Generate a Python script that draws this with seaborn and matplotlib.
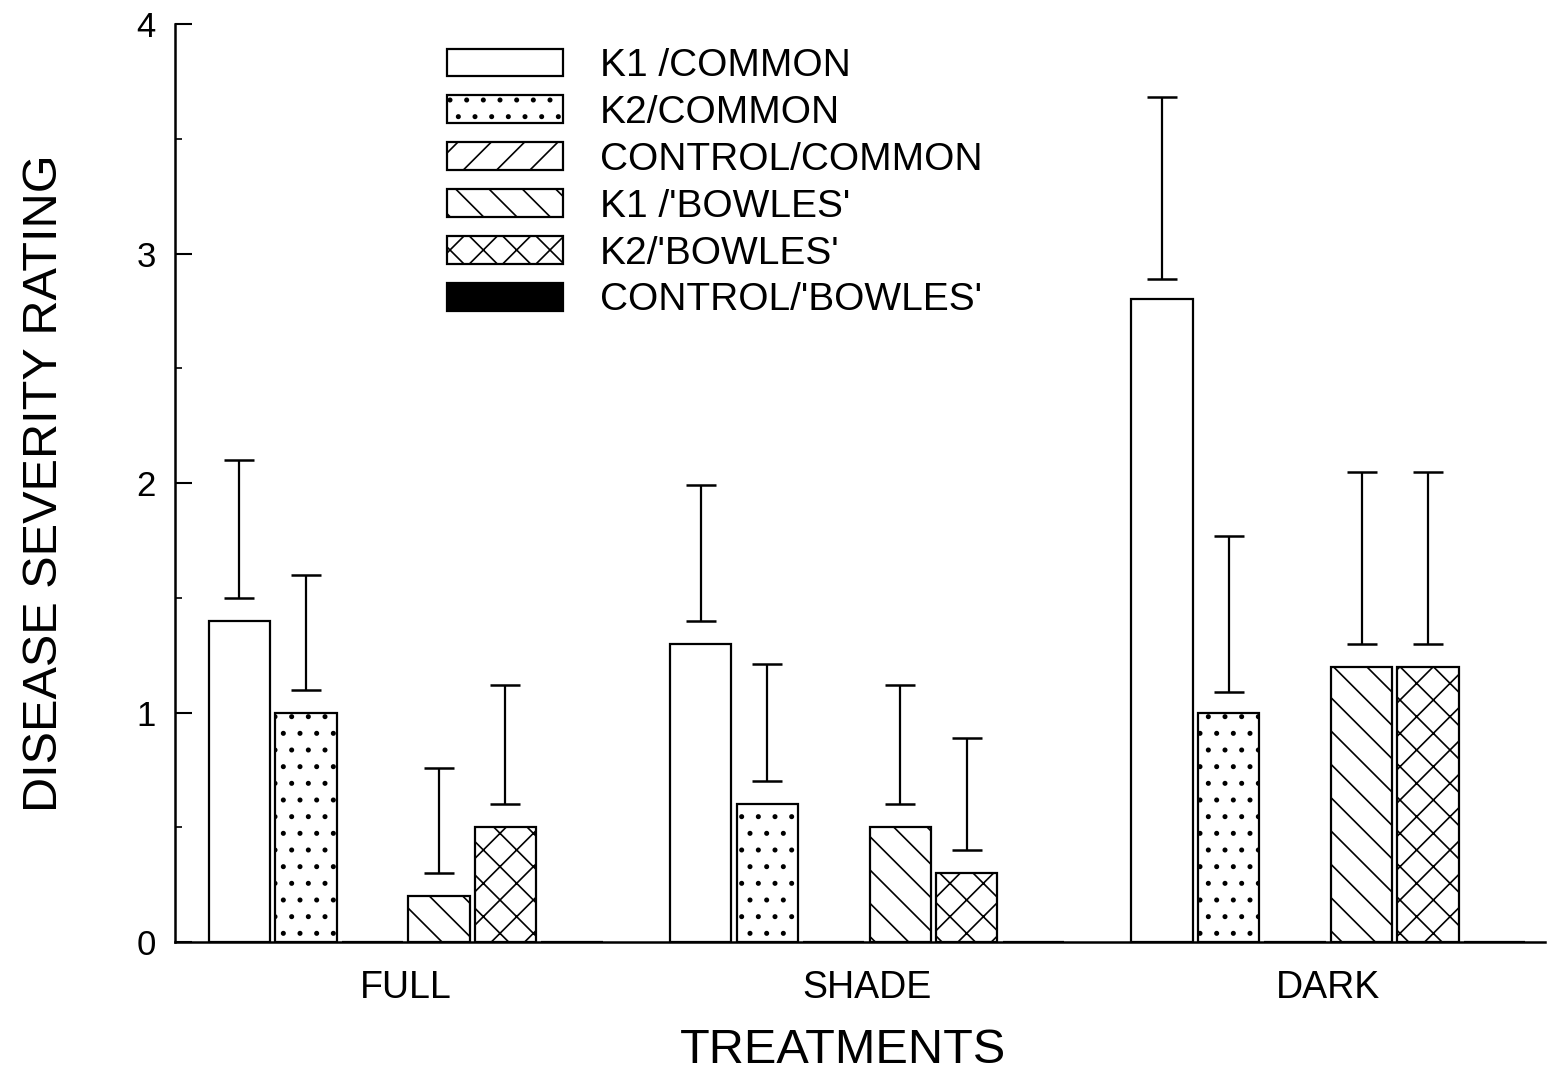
import matplotlib
matplotlib.use('Agg')
import matplotlib.pyplot as plt
from matplotlib.patches import Patch
from matplotlib.ticker import MultipleLocator
import pandas as pd
import seaborn as sns

# data
treatments = ['FULL', 'SHADE', 'DARK']
groups = ['K1 /COMMON', 'K2/COMMON', 'CONTROL/COMMON',
          "K1 /'BOWLES'", "K2/'BOWLES'", "CONTROL/'BOWLES'"]

k1_common = [1.4, 1.3, 2.8]
k2_common = [1.0, 0.6, 1.0]
control_common = [0.0, 0.0, 0.0]
k1_bowles = [0.2, 0.5, 1.2]
k2_bowles = [0.5, 0.3, 1.2]
control_bowles = [0.0, 0.0, 0.0]

# error bars (lower cap, upper cap)
k1_common_lo = [1.5, 1.4, 2.89]
k1_common_hi = [2.1, 1.99, 3.68]
k2_common_lo = [1.1, 0.7, 1.09]
k2_common_hi = [1.6, 1.21, 1.77]
k1_bowles_lo = [0.3, 0.6, 1.3]
k1_bowles_hi = [0.76, 1.12, 2.05]
k2_bowles_lo = [0.6, 0.4, 1.3]
k2_bowles_hi = [1.12, 0.89, 2.05]

values = [k1_common, k2_common, control_common,
          k1_bowles, k2_bowles, control_bowles]
err_lo = [k1_common_lo, k2_common_lo, None, k1_bowles_lo, k2_bowles_lo, None]
err_hi = [k1_common_hi, k2_common_hi, None, k1_bowles_hi, k2_bowles_hi, None]

# styles
hatches = ['', '.', '/', '\\', 'x', '']
faces = ['white', 'white', 'white', 'white', 'white', 'black']

rows = []
for g, vals in zip(groups, values):
    for t, v in zip(treatments, vals):
        rows.append({'treatment': t, 'group': g, 'rating': v})
df = pd.DataFrame(rows)

sns.set_style('ticks')
plt.rcParams['font.family'] = ['Liberation Sans', 'DejaVu Sans']
plt.rcParams['hatch.linewidth'] = 1.2
for key in ['text.color', 'axes.labelcolor', 'xtick.color', 'ytick.color']:
    plt.rcParams[key] = 'black'

fig, ax = plt.subplots(figsize=(15.56, 10.83), dpi=100)
fig.subplots_adjust(left=0.1125, right=0.993, bottom=0.1302, top=0.9778)

sns.barplot(data=df, x='treatment', y='rating', hue='group',
            order=treatments, hue_order=groups,
            palette=dict(zip(groups, faces)), saturation=1,
            edgecolor='black', linewidth=1.6, width=0.865, gap=0.08,
            errorbar=None, legend=False, ax=ax)

bar_containers = list(ax.containers)
for i, cont in enumerate(bar_containers):
    for bar in cont:
        bar.set_facecolor(faces[i])
        bar.set_hatch(hatches[i])
    if err_lo[i] is None:
        continue
    xs = [b.get_x() + b.get_width() / 2 for b in cont]
    mids = [(lo + hi) / 2 for lo, hi in zip(err_lo[i], err_hi[i])]
    half = [(hi - lo) / 2 for lo, hi in zip(err_lo[i], err_hi[i])]
    ax.errorbar(xs, mids, yerr=half, fmt='none', ecolor='black',
                elinewidth=1.6, capsize=11, capthick=1.8)

ax.set_xlim(-0.5, 2.47)
ax.set_ylim(0, 4)
ax.yaxis.set_major_locator(MultipleLocator(1))
ax.yaxis.set_minor_locator(MultipleLocator(0.5))
ax.tick_params(axis='y', which='major', direction='in', length=12,
               width=1.5, labelsize=25, pad=14)
ax.tick_params(axis='y', which='minor', direction='in', length=5, width=1.2)
ax.tick_params(axis='x', length=0, labelsize=27, pad=20)

sns.despine(ax=ax)
for side in ['left', 'bottom']:
    ax.spines[side].set_linewidth(1.8)
    ax.spines[side].set_color('black')

ax.set_xlabel('TREATMENTS', fontsize=35)
ax.xaxis.set_label_coords((843 - 175) / 1370, -0.094)
ax.set_ylabel('DISEASE SEVERITY RATING', fontsize=35)
ax.yaxis.set_label_coords(-0.079, 0.5)

handles = [Patch(facecolor=f, edgecolor='black', hatch=h, linewidth=1.6)
           for f, h in zip(faces, hatches)]
ax.legend(handles, groups, loc='upper left',
          bbox_to_anchor=(447 / 1556, 1 - 48 / 1083),
          bbox_transform=fig.transFigure, frameon=False, fontsize=28,
          handlelength=2.98, handleheight=0.72, handletextpad=0.95,
          labelspacing=0.28, borderpad=0, borderaxespad=0)

fig.savefig('out.png', dpi=100)
